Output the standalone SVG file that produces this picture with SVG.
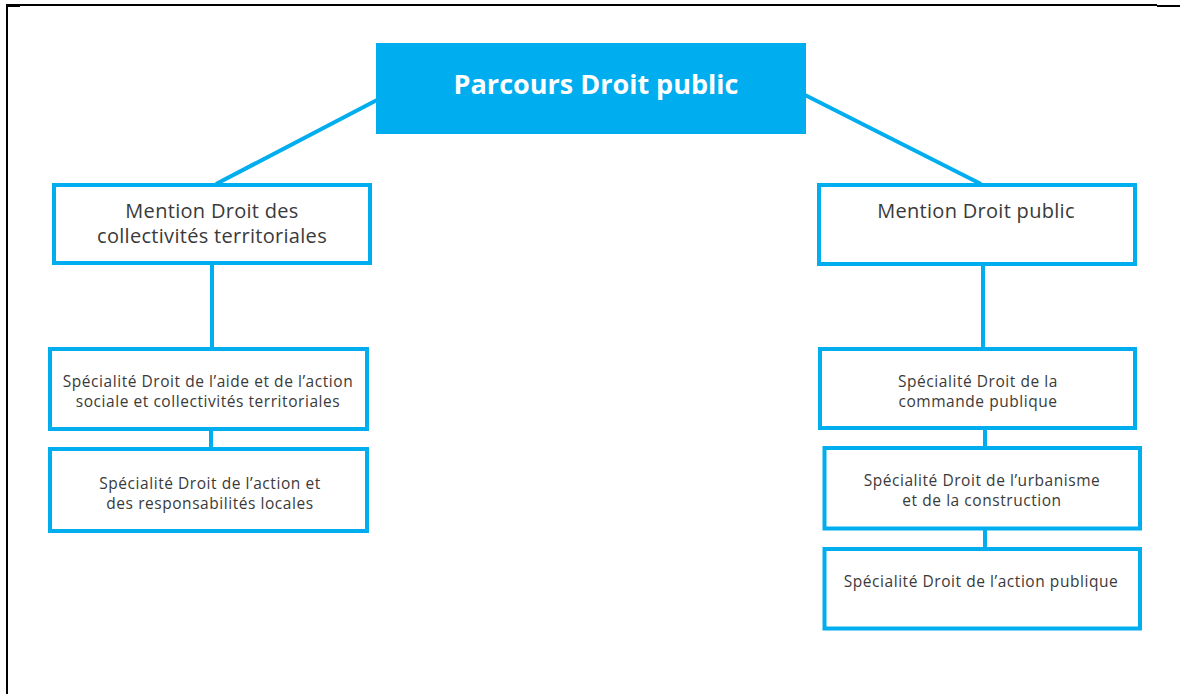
<svg xmlns="http://www.w3.org/2000/svg" width="1190" height="694" viewBox="0 0 1190 694">
<style>
.box{fill:#fff;stroke:#00AEEF;stroke-width:4}
.c{stroke:#00AEEF;stroke-width:4;fill:none}
.t{font-family:"Open Sans","Liberation Sans",sans-serif;fill:#3a3a3a;text-anchor:middle;font-variant-ligatures:none}
.m{font-size:20px;letter-spacing:0.3px}
.s{font-size:15.5px;letter-spacing:0.55px}
.frame{stroke:#000;stroke-width:2;fill:none}
</style>
<rect width="1190" height="694" fill="#fff"/>
<g id="frame">
<path class="frame" d="M7,694 V5 H1157"/>
<path class="frame" d="M1157,6 H1180"/>
<path class="frame" d="M7,6 H20"/>
</g>
<g id="connectors">
<line class="c" x1="377" y1="100" x2="216" y2="184"/>
<line class="c" x1="805" y1="95" x2="981" y2="184"/>
<line class="c" x1="212" y1="264" x2="212" y2="349"/>
<line class="c" x1="983" y1="264" x2="983" y2="349"/>
<line class="c" x1="211" y1="429" x2="211" y2="449"/>
<line class="c" x1="985" y1="428" x2="985" y2="448"/>
<line class="c" x1="985" y1="528" x2="985" y2="549"/>
</g>
<g id="root">
<rect x="376" y="43" width="430" height="91" fill="#00AEEF"/>
<text x="596" y="94" font-family="'Open Sans','Liberation Sans',sans-serif" font-weight="bold" font-size="27" fill="#fff" text-anchor="middle">Parcours Droit public</text>
</g>
<g id="mention-collectivites">
<rect class="box" x="54" y="185" width="316" height="78"/>
<text class="t m" x="212" y="218">Mention Droit des</text>
<text class="t m" x="212" y="243">collectivités territoriales</text>
</g>
<g id="mention-public">
<rect class="box" x="819" y="185" width="316" height="79"/>
<text class="t m" x="976" y="218">Mention Droit public</text>
</g>
<g id="spec-aide">
<rect class="box" x="50" y="349" width="317" height="80"/>
<text class="t s" x="208" y="387">Spécialité Droit de l’aide et de l’action</text>
<text class="t s" x="208" y="407">sociale et collectivités territoriales</text>
</g>
<g id="spec-locales">
<rect class="box" x="50" y="449" width="317" height="82"/>
<text class="t s" x="210" y="488.5">Spécialité Droit de l’action et</text>
<text class="t s" x="210" y="508.5">des responsabilités locales</text>
</g>
<g id="spec-commande">
<rect class="box" x="820" y="349" width="315" height="79"/>
<text class="t s" x="978" y="387">Spécialité Droit de la</text>
<text class="t s" x="978" y="407">commande publique</text>
</g>
<g id="spec-urbanisme">
<rect class="box" x="824.5" y="448" width="315.5" height="80.5"/>
<text class="t s" x="982" y="486">Spécialité Droit de l’urbanisme</text>
<text class="t s" x="982" y="506">et de la construction</text>
</g>
<g id="spec-action-publique">
<rect class="box" x="824.5" y="549" width="315.5" height="79.5"/>
<text class="t s" x="981" y="587">Spécialité Droit de l’action publique</text>
</g>
</svg>
